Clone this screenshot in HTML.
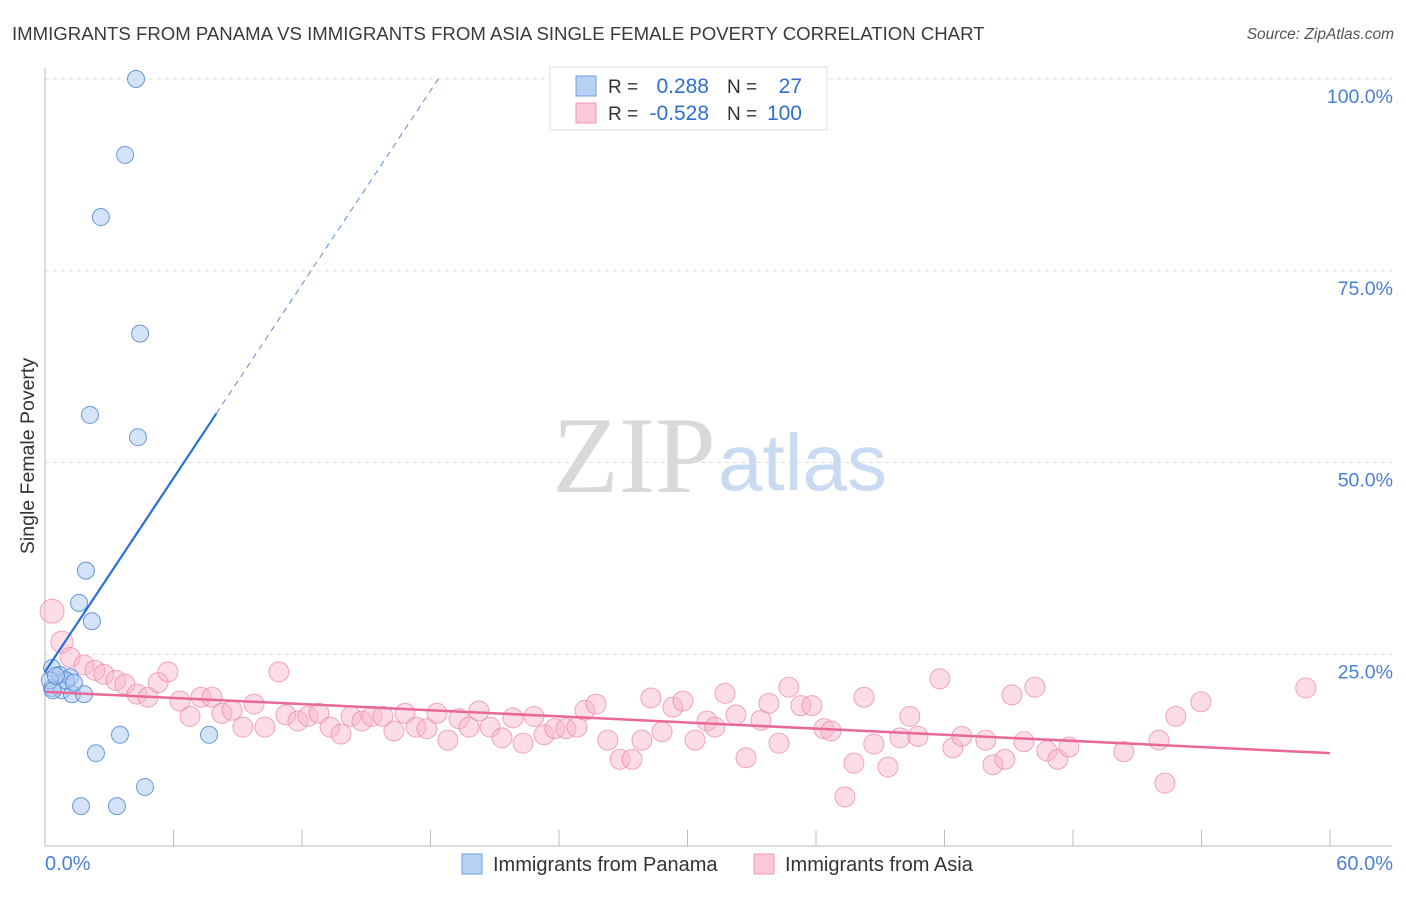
<!DOCTYPE html>
<html><head><meta charset="utf-8"><style>
body{margin:0;background:#fff;font-family:"Liberation Sans",sans-serif}
</style></head><body>
<svg id="c" width="1406" height="892" xmlns="http://www.w3.org/2000/svg"></svg>
<script>
const blueX=[4.25,3.74,2.61,4.44,2.10,4.34,1.91,1.59,2.19,0.33,0.70,1.17,0.33,0.79,1.26,1.82,0.23,0.98,1.35,7.66,3.50,2.38,4.67,1.68,3.36,0.37,0.51];
const blueY=[100,90.1,82.0,66.8,56.2,53.3,35.9,31.7,29.3,23.2,22.3,22.0,20.6,20.3,19.8,19.8,21.6,21.6,21.3,14.5,14.5,12.1,7.7,5.2,5.2,20.3,22.2];
const pinkX=[0.33,0.79,1.17,1.82,2.33,2.75,3.31,3.73,4.30,4.81,5.28,5.74,6.30,6.77,7.28,7.80,8.26,8.73,9.24,9.76,10.27,10.92,11.25,11.81,12.28,12.79,13.31,13.82,14.29,14.80,15.27,15.78,16.29,16.81,17.32,17.83,18.30,18.81,19.33,19.80,20.26,20.78,21.34,21.85,22.32,22.83,23.30,23.81,24.32,24.84,25.21,25.73,26.28,26.85,27.41,27.87,28.29,28.81,29.32,29.79,30.35,30.91,31.28,31.75,32.26,32.73,33.43,33.80,34.27,34.73,35.29,35.81,36.37,36.70,37.35,37.77,38.24,38.70,39.36,39.92,40.38,40.76,41.78,42.39,42.81,43.93,44.26,44.82,45.15,45.71,46.22,46.78,47.29,47.81,50.37,52.01,52.29,52.80,53.97,58.87];
const pinkY=[30.6,26.6,24.6,23.6,22.9,22.4,21.6,21.1,19.8,19.4,21.3,22.7,18.9,16.9,19.4,19.4,17.3,17.7,15.5,18.5,15.5,22.7,17.1,16.3,16.9,17.3,15.5,14.6,16.9,16.3,16.9,16.9,15.0,17.3,15.5,15.3,17.3,13.8,16.6,15.5,17.6,15.5,14.1,16.7,13.4,16.9,14.5,15.3,15.3,15.5,17.7,18.5,13.8,11.3,11.3,13.8,19.3,14.9,18.1,18.9,13.8,16.3,15.5,19.9,17.1,11.5,16.4,18.6,13.4,20.7,18.3,18.3,15.3,15.0,6.4,10.8,19.4,13.3,10.3,14.1,16.9,14.3,21.8,12.8,14.3,13.8,10.6,11.3,19.7,13.6,20.7,12.4,11.3,12.9,12.3,13.8,8.2,16.9,18.8,20.6];
const yTicks=[25,50,75,100];
const blueTrend=[22.7,4.21];
const pinkTrend=[20.1,-0.1333];
const NS="http://www.w3.org/2000/svg",svg=document.getElementById('c');
const X=v=>45+v/60*1285, Y=v=>846-v/100*767;
function mk(t,a,txt){const e=document.createElementNS(NS,t);for(const k in a)e.setAttribute(k,a[k]);if(txt!=null)e.textContent=txt;svg.appendChild(e);return e;}
let e;
e=mk('text',{x:12,y:40,'font-size':18.6,fill:'#3a3a3a'},'IMMIGRANTS FROM PANAMA VS IMMIGRANTS FROM ASIA SINGLE FEMALE POVERTY CORRELATION CHART');

e=mk('text',{x:1394,y:39,'font-size':15.5,fill:'#555','font-style':'italic','text-anchor':'end'},'Source: ZipAtlas.com');

e=mk('text',{x:634,y:492,'font-size':109,fill:'#d9d9d9','font-family':'Liberation Serif,serif','text-anchor':'middle'},'ZIP');

e=mk('text',{x:718,y:490,'font-size':80,fill:'#c9daf2'},'atlas');

yTicks.forEach(t=>{
 e=mk('line',{x1:45,x2:1392,y1:Y(t),y2:Y(t),stroke:'#dcdcdc','stroke-dasharray':'4,4'});
 
 e=mk('text',{x:1393,y:Y(t)+24,'font-size':19.5,fill:'#4a7fd4','text-anchor':'end'},t.toFixed(1)+'%');
 
});
e=mk('line',{x1:45,x2:45,y1:68,y2:846,stroke:'#bbb'});
e=mk('line',{x1:45,x2:1392,y1:846,y2:846,stroke:'#bbb'});
for(let i=0;i<=10;i++){e=mk('line',{x1:X(i*6),x2:X(i*6),y1:830,y2:846,stroke:'#bbb'});}
e=mk('text',{x:45,y:870,'font-size':20,fill:'#4a7fd4'},'0.0%');
e=mk('text',{x:1393,y:870,'font-size':20,fill:'#4a7fd4','text-anchor':'end'},'60.0%');
e=mk('text',{x:34,y:456,'font-size':19.5,fill:'#333','text-anchor':'middle',transform:'rotate(-90 34 456)'},'Single Female Poverty');

pinkX.forEach((x,i)=>{const r=i==0?12:(i==1?11:10);
 e=mk('circle',{cx:X(x),cy:Y(pinkY[i]),r:r,fill:'rgba(248,180,200,0.45)',stroke:'rgba(235,130,165,0.7)','stroke-width':1});
 });
blueX.forEach((x,i)=>{
 e=mk('circle',{cx:X(x),cy:Y(blueY[i]),r:8.5,fill:'rgba(170,200,240,0.5)',stroke:'rgba(70,130,210,0.8)','stroke-width':1});
 });
const bEnd=(100-blueTrend[0])/blueTrend[1];
e=mk('line',{x1:X(0),y1:Y(blueTrend[0]),x2:X(8),y2:Y(blueTrend[0]+8*blueTrend[1]),stroke:'#2a6fd6','stroke-width':2.2});

e=mk('line',{x1:X(8),y1:Y(blueTrend[0]+8*blueTrend[1]),x2:X(bEnd),y2:Y(100),stroke:'#2a6fd6','stroke-width':1,'stroke-dasharray':'6,5',opacity:0.8});

e=mk('line',{x1:X(0),y1:Y(pinkTrend[0]),x2:X(60),y2:Y(pinkTrend[0]+60*pinkTrend[1]),stroke:'#e8689a','stroke-width':2.5});

e=mk('rect',{x:550,y:67,width:277,height:63,fill:'#fff',stroke:'#ddd'});
[[0,'#b8d2f4','#6f9fe0','0.288','27'],[1,'#fbc8d8','#ec98b5','-0.528','100']].forEach(([i,f,s,r,n])=>{
 const y=86+i*27;
 e=mk('rect',{x:576,y:y-10,width:20,height:20,fill:f,stroke:s});
 e=mk('text',{x:608,y:y+7,'font-size':19,fill:'#333'},'R =');
 e=mk('text',{x:709,y:y+7,'font-size':21,fill:'#2f6fd0','text-anchor':'end'},r);
 e=mk('text',{x:727,y:y+7,'font-size':19,fill:'#333'},'N =');
 e=mk('text',{x:802,y:y+7,'font-size':21,fill:'#2f6fd0','text-anchor':'end'},n);
});
[[462,'#b8d2f4','#6f9fe0','Immigrants from Panama'],[754,'#fbc8d8','#ec98b5','Immigrants from Asia']].forEach(([x,f,s,t])=>{
 e=mk('rect',{x:x,y:854,width:20,height:20,fill:f,stroke:s});
 e=mk('text',{x:x+31,y:871,'font-size':20,fill:'#333'},t);
});
</script>
</body></html>
